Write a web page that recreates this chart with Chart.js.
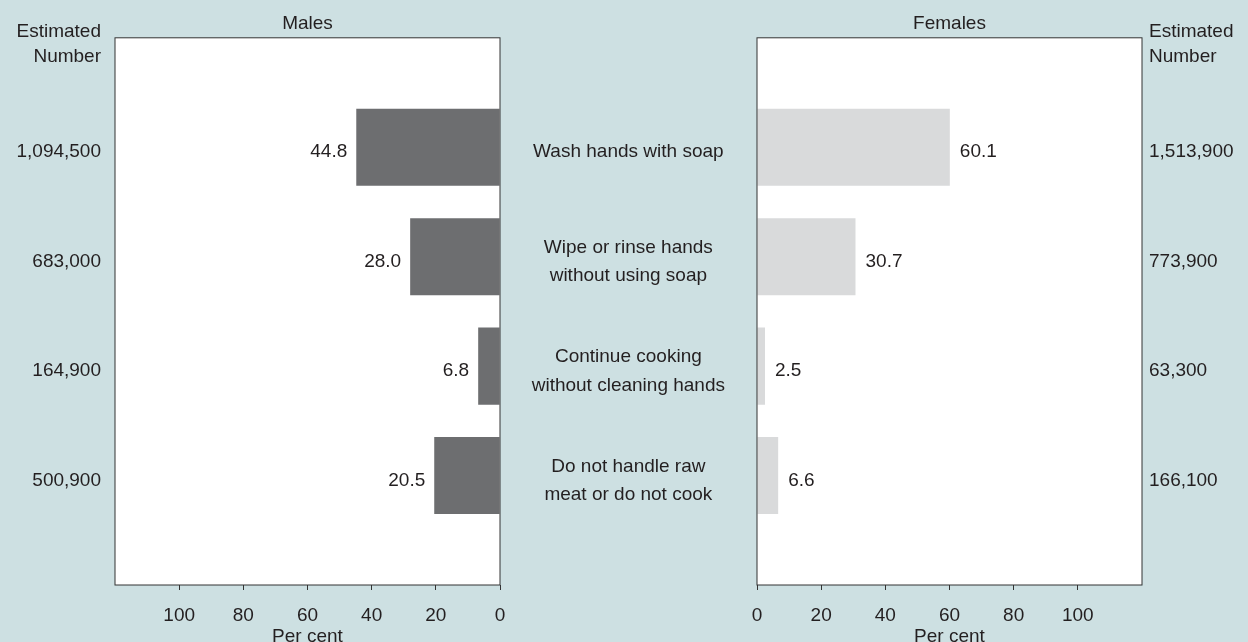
<!DOCTYPE html>
<html lang="en">
  <head>
    <meta charset="UTF-8" />
    <title>Hand washing after handling raw meat</title>
    <script src="https://cdn.jsdelivr.net/npm/chart.js"></script>
    <style>
      body { margin: 0; background: #cde0e2; overflow: hidden; }
      #males { position: absolute; left: 0; top: 0; }
      #females { position: absolute; left: 510px; top: 0; }
    </style>
  </head>
  <body>
    <canvas id="males" width="520" height="642"></canvas>
    <canvas id="females" width="738" height="642"></canvas>
    <script>
      // data
      var categories = [
        "Wash hands with soap",
        "Wipe or rinse hands\nwithout using soap",
        "Continue cooking\nwithout cleaning hands",
        "Do not handle raw\nmeat or do not cook",
      ];
      var malesPct = [44.8, 28.0, 6.8, 20.5];
      var femalesPct = [60.1, 30.7, 2.5, 6.6];
      var malesNum = [1094500, 683000, 164900, 500900];
      var femalesNum = [1513900, 773900, 63300, 166100];
      var maxTick = 100;

      var ink = "#231f20";
      var textDrop = 5; // text sits a little below the bar centre
      Chart.defaults.font.family = "'Liberation Sans', Arial, sans-serif";
      Chart.defaults.font.size = 19;
      Chart.defaults.color = ink;

      // blank slot above and below the four categories
      var labels = [""].concat(categories, [""]);
      function pad(arr) { return [null].concat(arr, [null]); }
      function fmt(n) { return n.toLocaleString("en-US"); }

      // white plot box with a dark frame, value labels, "Estimated Number" header
      function decor(side, headerX, headerAlign) {
        return {
          id: "decor_" + side,
          beforeDatasetsDraw: function (chart) {
            var a = chart.chartArea, ctx = chart.ctx;
            ctx.save();
            ctx.fillStyle = "#fff";
            ctx.fillRect(a.left, a.top, a.right - a.left, a.bottom - a.top);
            ctx.restore();
          },
          afterDatasetsDraw: function (chart) {
            var a = chart.chartArea, ctx = chart.ctx;
            ctx.save();
            ctx.strokeStyle = "#333";
            ctx.lineWidth = 1;
            ctx.strokeRect(a.left, a.top, a.right - a.left, a.bottom - a.top);
            ctx.font = "19px 'Liberation Sans', Arial, sans-serif";
            ctx.fillStyle = ink;
            ctx.textBaseline = "middle";
            var meta = chart.getDatasetMeta(0);
            var vals = chart.data.datasets[0].data;
            meta.data.forEach(function (bar, i) {
              if (vals[i] == null) return;
              if (side === "m") {
                ctx.textAlign = "right";
                ctx.fillText(vals[i].toFixed(1), bar.x - 9, bar.y + textDrop);
              } else {
                ctx.textAlign = "left";
                ctx.fillText(vals[i].toFixed(1), bar.x + 10, bar.y + textDrop);
              }
            });
            ctx.textAlign = headerAlign;
            ctx.fillText("Estimated", headerX, 31.5);
            ctx.fillText("Number", headerX, 57);
            ctx.restore();
          },
        };
      }

      function xAxis(reverse) {
        return {
          type: "linear",
          reverse: reverse,
          min: 0,
          max: 120,
          afterBuildTicks: function (s) {
            s.ticks = s.ticks.filter(function (t) { return t.value <= maxTick; });
          },
          afterFit: function (s) { s.height = 57; },
          ticks: { stepSize: 20, padding: 14.5, maxRotation: 0 },
          grid: { display: true, drawOnChartArea: false, drawTicks: true, tickLength: 5, color: "#333" },
          border: { display: false },
          title: { display: true, text: "Per cent", padding: 0, font: { lineHeight: "10px" } },
        };
      }

      function yAxis(position, width, ticks) {
        return {
          type: "category",
          position: position,
          offset: false,
          afterFit: function (s) {
            s.width = width;
            s.paddingTop = 0;
            s.paddingBottom = 0;
          },
          ticks: Object.assign({ autoSkip: false, labelOffset: textDrop }, ticks),
          grid: { display: false, drawTicks: false, offset: false },
          border: { display: false },
        };
      }

      function titleOpts(text) {
        return { display: true, text: text, fullSize: false, padding: { top: 12.5, bottom: 2.5 }, font: { weight: "normal", size: 19 } };
      }

      new Chart(document.getElementById("males"), {
        type: "bar",
        data: {
          labels: labels,
          datasets: [{ data: pad(malesPct), backgroundColor: "#6d6e70", barPercentage: 0.704, categoryPercentage: 1 }],
        },
        options: {
          indexAxis: "y",
          responsive: false,
          animation: false,
          layout: { padding: { right: 20 } },
          plugins: {
            legend: { display: false },
            tooltip: { enabled: false },
            title: titleOpts("Males"),
          },
          scales: {
            x: xAxis(true),
            y: yAxis("left", 115, {
              padding: 14,
              callback: function (v, i) { return i > 0 && i <= malesNum.length ? fmt(malesNum[i - 1]) : ""; },
            }),
          },
        },
        plugins: [decor("m", 101, "right")],
      });

      new Chart(document.getElementById("females"), {
        type: "bar",
        data: {
          labels: labels,
          datasets: [{ data: pad(femalesPct), backgroundColor: "#d9dadb", barPercentage: 0.704, categoryPercentage: 1 }],
        },
        options: {
          indexAxis: "y",
          responsive: false,
          animation: false,
          plugins: {
            legend: { display: false },
            tooltip: { enabled: false },
            title: titleOpts("Females"),
          },
          scales: {
            x: xAxis(false),
            y: yAxis("left", 247, {
              crossAlign: "center",
              padding: 32,
              font: { lineHeight: 1.5 },
              callback: function (v, i) { return labels[i].split("\n"); },
            }),
            y2: yAxis("right", 106, {
              padding: 7,
              callback: function (v, i) { return i > 0 && i <= femalesNum.length ? fmt(femalesNum[i - 1]) : ""; },
            }),
          },
        },
        plugins: [decor("f", 639, "left")],
      });
    </script>
  </body>
</html>
